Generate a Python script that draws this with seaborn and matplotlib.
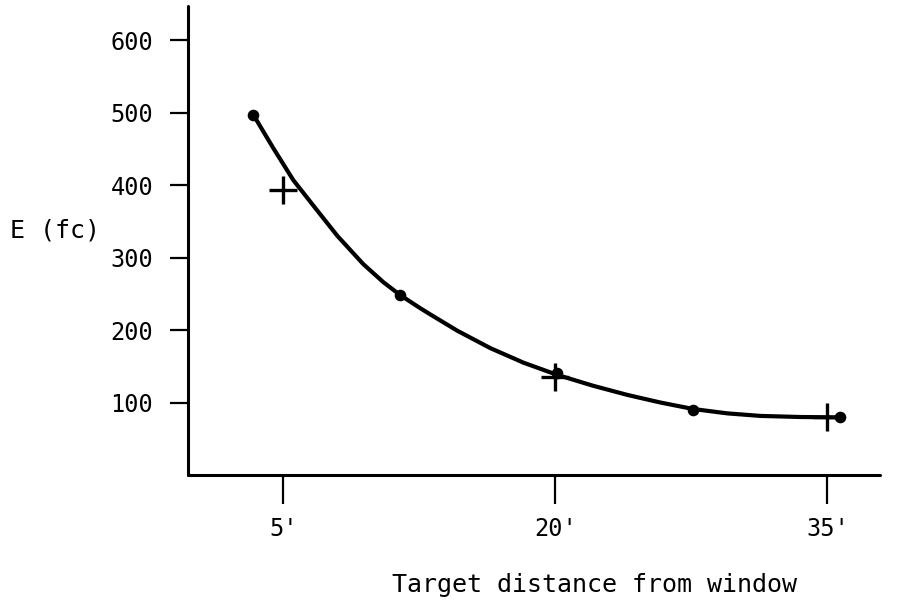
import matplotlib
matplotlib.use("Agg")
import matplotlib.pyplot as plt
import seaborn as sns
import pandas as pd

# Data
dot_x = [3.35, 11.45, 20.1, 27.6, 35.7]
dot_y = [497, 249, 141, 90, 80]

plus_x = [5, 20, 35]
plus_y = [393, 135, 80]

curve_x = [3.35, 4.45, 5.55, 6.65, 7.98, 9.41, 10.52, 11.46, 12.56, 13.11,
           14.60, 16.42, 18.24, 20.12, 22.10, 23.97, 25.79, 27.61, 29.49,
           31.31, 33.52, 35.72]
curve_y = [497, 451, 407, 372, 330, 291, 266, 248, 230, 221.5,
           199, 175, 155, 138, 123, 110.5, 100, 91, 85,
           81.5, 80, 79.5]

x_ticks = [5, 20, 35]
x_tick_labels = ["5'", "20'", "35'"]
y_ticks = [100, 200, 300, 400, 500, 600]
y_tick_labels = ["100", "200", "300", "400", "500", "600"]

sns.set_theme(style="white")
plt.rcParams['font.family'] = ['DejaVu Sans Mono', 'DejaVu Sans']

fig = plt.figure(figsize=(9.04, 6.06), dpi=100)
ax = fig.add_axes([188/904, (606-475)/606, (880-188)/904, (475-6)/606])

curve_df = pd.DataFrame({"x": curve_x, "y": curve_y})
dots_df = pd.DataFrame({"x": dot_x, "y": dot_y})
plus_df = pd.DataFrame({"x": plus_x, "y": plus_y})

sns.lineplot(data=curve_df, x="x", y="y", ax=ax, color="black", linewidth=3.0,
             sort=False, estimator=None)
ax.lines[-1].set_solid_capstyle("round")
ax.lines[-1].set_solid_joinstyle("round")
sns.scatterplot(data=dots_df, x="x", y="y", ax=ax, color="black", s=70,
                edgecolor="black", linewidth=0, zorder=3)
sns.scatterplot(data=plus_df, x="x", y="y", ax=ax, color="black", marker="+",
                s=420, linewidth=2.4, zorder=3)

ax.set_xlim(-0.25, 37.9)
ax.set_ylim(0, 647)

ax.set_xticks(x_ticks)
ax.set_xticklabels(x_tick_labels, fontsize=17, color="black")
ax.set_yticks(y_ticks)
ax.set_yticklabels(y_tick_labels, fontsize=17, color="black")

for side in ["top", "right"]:
    ax.spines[side].set_visible(False)
for side in ["left", "bottom"]:
    ax.spines[side].set_color("black")
    ax.spines[side].set_linewidth(2.2)
    ax.spines[side].set_capstyle("round")

ax.tick_params(axis="y", direction="out", length=13, width=1.6, pad=12,
               colors="black", left=True)
ax.tick_params(axis="x", direction="out", length=21, width=1.6, pad=9,
               colors="black", bottom=True)

ax.set_ylabel("E (fc)", rotation=0, fontsize=18, ha="center", va="center",
              color="black")
ax.yaxis.set_label_coords(-0.192, 0.522)
ax.set_xlabel("Target distance from window", fontsize=18, ha="center",
              va="center", color="black")
ax.xaxis.set_label_coords(0.588, -0.234)

ax.set_facecolor("white")
fig.patch.set_facecolor("white")
fig.savefig("out.png", dpi=100)
